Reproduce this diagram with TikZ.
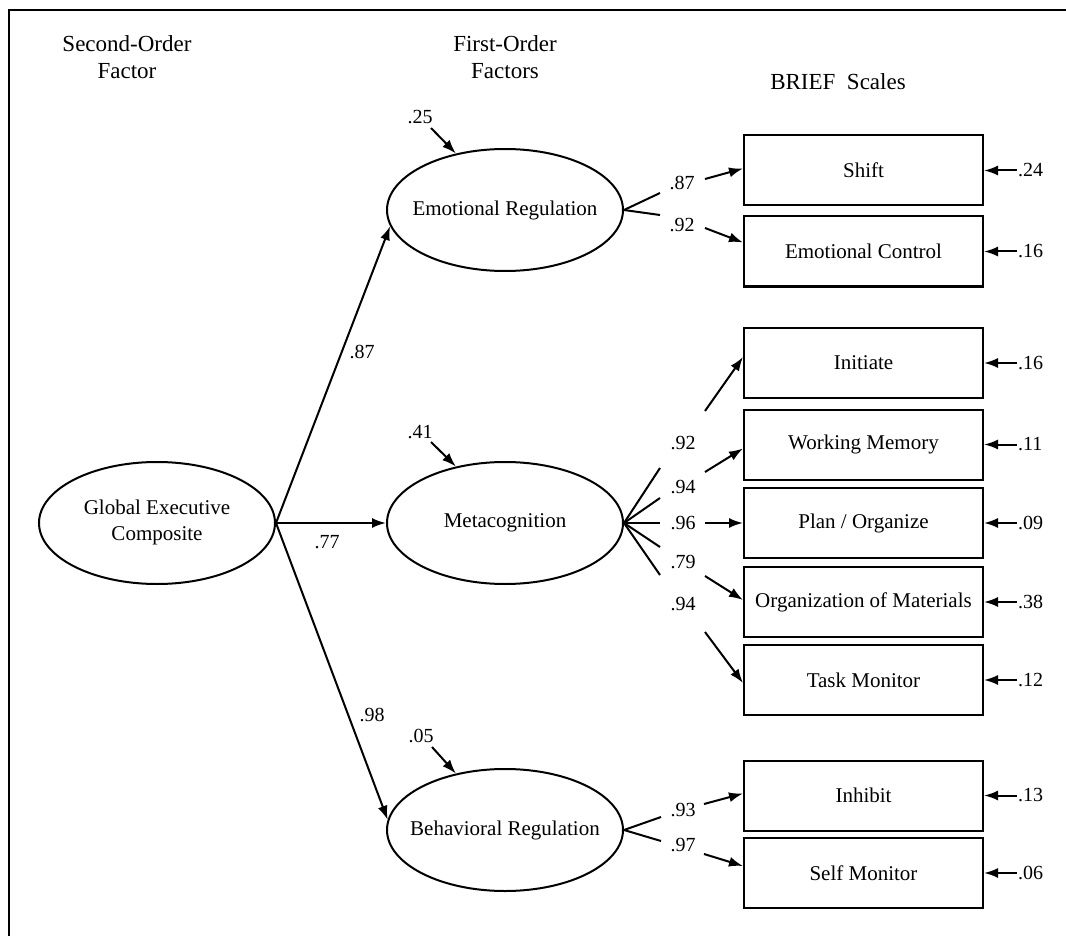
\documentclass[tikz,border=0pt]{standalone}
\usepackage{fontspec}
\setmainfont{Liberation Serif}
\usetikzlibrary{shapes.geometric,arrows.meta,calc}
\newcommand{\zw}[1]{\makebox[0pt][c]{#1}}
\begin{document}
\begin{tikzpicture}[x=1pt,y=-1pt,
  every node/.style={font=\fontsize{21}{24}\selectfont},
  latent/.style={draw,ellipse,line width=2pt,minimum width=236pt,minimum height=122pt,inner sep=0pt},
  scalebox/.style={draw,rectangle,line width=2pt,minimum width=239pt,minimum height=70pt,inner sep=0pt},
  lbl/.style={inner sep=1pt,font=\fontsize{20}{24}\selectfont},
  hdr/.style={align=center,font=\fontsize{23}{27}\selectfont},
  path/.style={line width=2pt},
  arr/.style={line width=2pt,-{Latex[length=14pt,width=10pt]}}]
\useasboundingbox (0,0) rectangle (1066,936);
\draw[line width=2.5pt] (9,936) -- (9,10) -- (1066,10);

% headers
\node[hdr] (h1) at (127,57) {Second-Order\\Factor};
\node[hdr] (h2) at (505,57) {First-Order\\Factors};
\node[hdr] (h3) at (838,82) {BRIEF\ \ Scales};

% latent variables
\node[latent] (glob) at (157,523) {\zw{\begin{tabular}{@{}c@{}}Global Executive\\[2pt]Composite\end{tabular}}};
\node[latent] (emo) at (505,210) {\zw{Emotional Regulation}};
\node[latent] (meta) at (505,523) {\zw{Metacognition}};
\node[latent] (beh) at (505,830) {\zw{Behavioral Regulation}};

% observed scales
\node[scalebox] (shift) at (863.5,170.5) {Shift};
\node[scalebox] (ectl) at (863.5,251.5) {Emotional Control};
\node[scalebox] (init) at (863.5,363) {Initiate};
\node[scalebox] (wm) at (863.5,444.5) {Working Memory};
\node[scalebox] (plan) at (863.5,523) {Plan / Organize};
\node[scalebox] (org) at (863.5,602) {\zw{Organization of Materials}};
\node[scalebox] (task) at (863.5,680) {Task Monitor};
\node[scalebox] (inh) at (863.5,795.5) {Inhibit};
\node[scalebox] (self) at (863.5,873) {Self Monitor};

% second-order paths
\draw[arr] (glob.east) -- (emo.188);
\draw[arr] (glob.east) -- (meta.west);
\draw[arr] (glob.east) -- (beh.175);
\node[lbl] (l1) at (362,352) {.87};
\node[lbl] (l2) at (327,542) {.77};
\node[lbl] (l3) at (372,715) {.98};

% disturbances
\node[lbl] (d1) at (420,117) {.25};
\node[lbl] (d2) at (420,432) {.41};
\node[lbl] (d3) at (421,736) {.05};
\coordinate (d1t) at (431,128);
\coordinate (d2t) at (431,442);
\coordinate (d3t) at (432,747);
\draw[arr] (d1t) -- (emo.131);
\draw[arr] (d2t) -- (meta.131);
\draw[arr] (d3t) -- (beh.131);

% emotional regulation loadings
\coordinate (e1a) at (660,193); \coordinate (e1b) at (705,179);
\coordinate (e2a) at (660,215); \coordinate (e2b) at (705,228);
\draw[path] (emo.east) -- (e1a);
\draw[path] (emo.east) -- (e2a);
\node[lbl] (le1) at (682,183) {.87};
\node[lbl] (le2) at (682,225) {.92};
\draw[arr] (e1b) -- ([yshift=2pt]shift.west);
\draw[arr] (e2b) -- ([yshift=9pt]ectl.west);

% metacognition loadings
\coordinate (m1a) at (660,468); \coordinate (m1b) at (705,411);
\coordinate (m2a) at (660,498); \coordinate (m2b) at (705,472);
\coordinate (m3a) at (660,523); \coordinate (m3b) at (705,523);
\coordinate (m4a) at (660,547); \coordinate (m4b) at (705,576);
\coordinate (m5a) at (660,575); \coordinate (m5b) at (705,632);
\foreach \c in {m1a,m2a,m3a,m4a,m5a} \draw[path] (meta.east) -- (\c);
\node[lbl] (lm1) at (683,443) {.92};
\node[lbl] (lm2) at (683,487) {.94};
\node[lbl] (lm3) at (683,523) {.96};
\node[lbl] (lm4) at (683,562) {.79};
\node[lbl] (lm5) at (683,604) {.94};
\draw[arr] (m1b) -- ([yshift=6pt]init.west);
\draw[arr] (m2b) -- ([yshift=-4pt]wm.west);
\draw[arr] (m3b) -- (plan.west);
\draw[arr] (m4b) -- ([yshift=2pt]org.west);
\draw[arr] (m5b) -- ([yshift=-3pt]task.west);

% behavioral regulation loadings
\coordinate (b1a) at (661,817); \coordinate (b1b) at (704,804);
\coordinate (b2a) at (661,841); \coordinate (b2b) at (704,854);
\draw[path] (beh.east) -- (b1a);
\draw[path] (beh.east) -- (b2a);
\node[lbl] (lb1) at (683,810) {.93};
\node[lbl] (lb2) at (683,845) {.97};
\draw[arr] (b1b) -- ([yshift=2pt]inh.west);
\draw[arr] (b2b) -- ([yshift=7pt]self.west);

% residuals
\foreach \n/\v in {shift/.24,ectl/.16,init/.16,wm/.11,plan/.09,org/.38,task/.12,inh/.13,self/.06}{
  \node[lbl,anchor=west] (r\n) at ([xshift=33pt]\n.east) {\v};
  \draw[arr] (r\n.west) -- (\n.east);
}
\end{tikzpicture}
\end{document}
